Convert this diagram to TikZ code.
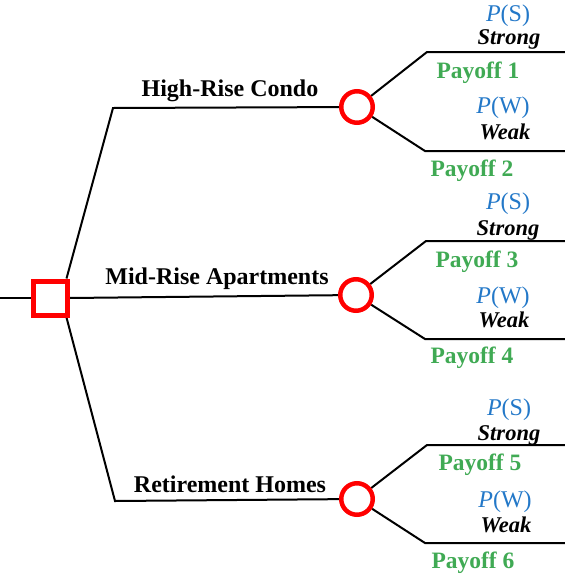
\documentclass[tikz,border=0pt]{standalone}
\usepackage{fontspec}
\setmainfont{Liberation Serif}
\usetikzlibrary{backgrounds}
\definecolor{payg}{RGB}{64,170,84}
\definecolor{probb}{RGB}{35,120,200}
\begin{document}
\begin{tikzpicture}[x=1pt,y=-1pt,
  edge/.style={line width=2pt, draw=black},
  chance/.style={circle, draw=red, line width=4.5pt, minimum size=31.5pt, inner sep=0pt},
  decision/.style={rectangle, draw=red, line width=5pt, minimum size=34pt, inner sep=0pt},
  branchlbl/.style={anchor=base, font=\fontsize{24}{24}\selectfont\bfseries, inner sep=0pt},
  pay/.style={anchor=base, font=\fontsize{23.5}{23.5}\selectfont\bfseries, text=payg, inner sep=0pt},
  statelbl/.style={anchor=base, font=\fontsize{22.5}{22.5}\selectfont\bfseries\itshape, inner sep=0pt},
  prob/.style={anchor=base, font=\fontsize{24}{24}\selectfont, text=probb, inner sep=0pt}]
\useasboundingbox (0,0) rectangle (565,574);

% decision and chance nodes
\node[decision] (sq) at (50,298) {};
\node[chance] (c1) at (357,107) {};
\node[chance] (c2) at (356,295) {};
\node[chance] (c3) at (357,499) {};

% coordinates
\coordinate (start) at (0,298);
\coordinate (t1) at (113,108);
\coordinate (b1) at (115,501);
\coordinate (u1) at (427,52);   \coordinate (ue1) at (565,52);
\coordinate (d1) at (425,151);  \coordinate (de1) at (565,151);
\coordinate (u2) at (426,241);  \coordinate (ue2) at (565,241);
\coordinate (d2) at (425,339);  \coordinate (de2) at (565,339);
\coordinate (u3) at (427,445);  \coordinate (ue3) at (565,445);
\coordinate (d3) at (425,543);  \coordinate (de3) at (565,543);

\begin{scope}[on background layer]
\draw[edge] (start) -- (sq.west);
\draw[edge] ([xshift=-3pt]sq.north east) -- (t1) -- (c1);
\draw[edge] (sq.east) -- (c2);
\draw[edge] ([xshift=-3pt]sq.south east) -- (b1) -- (c3);
\draw[edge] (c1) -- (u1) -- (ue1);
\draw[edge] (c1) -- (d1) -- (de1);
\draw[edge] (c2) -- (u2) -- (ue2);
\draw[edge] (c2) -- (d2) -- (de2);
\draw[edge] (c3) -- (u3) -- (ue3);
\draw[edge] (c3) -- (d3) -- (de3);
\end{scope}

% branch labels
\node[branchlbl] (l1) at (230,96) {High-Rise Condo};
\node[branchlbl] (l2) at (217,284) {Mid-Rise Apartments};
\node[branchlbl] (l3) at (230,492) {Retirement Homes};

% group 1
\node[prob] (ps1) at (508,21.5) {\itshape P\upshape(S)};
\node[statelbl] (s1) at (509,44.5) {Strong};
\node[pay] (p1) at (478,78.3) {Payoff 1};
\node[prob] (pw1) at (503,113) {\itshape P\upshape(W)};
\node[statelbl] (w1) at (505,139) {Weak};
\node[pay] (p2) at (472,176) {Payoff 2};

% group 2
\node[prob] (ps2) at (508,209) {\itshape P\upshape(S)};
\node[statelbl] (s2) at (508,235) {Strong};
\node[pay] (p3) at (477,267) {Payoff 3};
\node[prob] (pw2) at (503,303) {\itshape P\upshape(W)};
\node[statelbl] (w2) at (504,327) {Weak};
\node[pay] (p4) at (472,363) {Payoff 4};

% group 3
\node[prob] (ps3) at (509,415) {\itshape P\upshape(S)};
\node[statelbl] (s3) at (509,440) {Strong};
\node[pay] (p5) at (480,470) {Payoff 5};
\node[prob] (pw3) at (505,507) {\itshape P\upshape(W)};
\node[statelbl] (w3) at (506,532) {Weak};
\node[pay] (p6) at (473,568) {Payoff 6};
\end{tikzpicture}
\end{document}
